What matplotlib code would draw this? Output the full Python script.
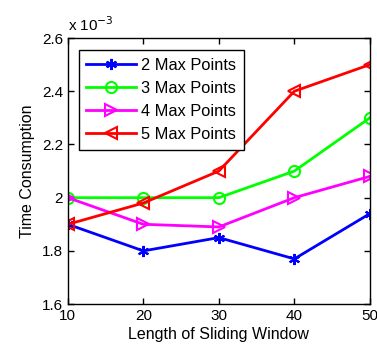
import matplotlib.pyplot as plt
from matplotlib.ticker import FuncFormatter

plt.rcParams['font.family'] = ['Liberation Sans', 'DejaVu Sans']

window = [10, 20, 30, 40, 50]
# time consumption, in units of 1e-3
pts2 = [1.90, 1.80, 1.85, 1.77, 1.94]
pts3 = [2.00, 2.00, 2.00, 2.10, 2.30]
pts4 = [2.00, 1.90, 1.89, 2.00, 2.08]
pts5 = [1.90, 1.98, 2.10, 2.40, 2.50]
labels = ['2 Max Points', '3 Max Points', '4 Max Points', '5 Max Points']

fig = plt.figure(figsize=(3.77, 3.52), dpi=100)
ax = fig.add_axes([0.180, 0.136, 0.801, 0.756])

ax.plot(window, pts2, color='#0000ff', lw=2, marker=(6, 2, 0), ms=8, mew=1.5, label=labels[0])
ax.plot(window, pts3, color='#00ff00', lw=2, marker='o', ms=8, mfc='none', mew=1.5, label=labels[1])
ax.plot(window, pts4, color='#ff00ff', lw=2, marker='>', ms=9, mfc='none', mew=1.5, label=labels[2])
ax.plot(window, pts5, color='#ff0000', lw=2, marker='<', ms=9, mfc='none', mew=1.5, label=labels[3])

ax.set_xlim(10, 50)
ax.set_ylim(1.6, 2.6)
ax.set_xticks(window)
ax.set_yticks([1.6, 1.8, 2.0, 2.2, 2.4, 2.6])
ax.yaxis.set_major_formatter(FuncFormatter(lambda v, p: '%g' % round(v, 2)))
ax.tick_params(direction='in', top=True, right=True, labelsize=11, length=4, width=1)
for s in ax.spines.values():
    s.set_linewidth(1)

ax.set_xlabel('Length of Sliding Window', fontsize=11.5, labelpad=3)
ax.set_ylabel('Time Consumption', fontsize=11.5, labelpad=5)
ax.text(0.0, 1.015, r'x 10$^{-3}$', transform=ax.transAxes, fontsize=11, ha='left', va='bottom')

leg = ax.legend(loc='upper left', bbox_to_anchor=(0.01, 0.985), fontsize=11.8, fancybox=False,
                edgecolor='black', framealpha=1, handlelength=3.0, borderpad=0.45, labelspacing=0.5,
                handletextpad=0.35)
leg.get_frame().set_linewidth(1)

fig.savefig('out.png', dpi=100)
